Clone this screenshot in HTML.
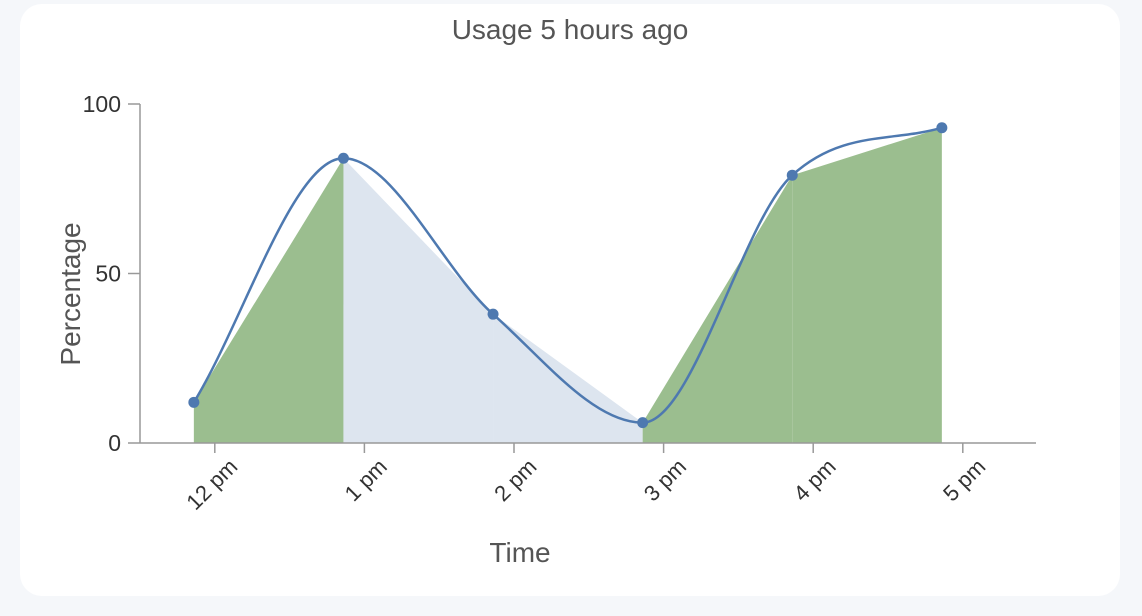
<!DOCTYPE html>
<html><head><meta charset="utf-8"><style>
body{margin:0;background:#f5f7fa;font-family:"Liberation Sans","DejaVu Sans",sans-serif;}
#card{position:absolute;left:20px;top:4px;width:1100px;height:592px;background:#fff;border-radius:22px;}
svg{position:absolute;left:0;top:0;}
</style></head><body>
<div id="card"></div>
<svg id="chart" width="1142" height="616">
<text x="570" y="39" text-anchor="middle" font-size="28" fill="#555">Usage 5 hours ago</text>
<g id="areas"></g><g id="axes"></g><g id="marks"></g>
<text x="520" y="562" text-anchor="middle" font-size="28" fill="#555">Time</text>
<text transform="translate(80,294) rotate(-90)" text-anchor="middle" font-size="28" fill="#555">Percentage</text>
</svg>
<script>
const times=[11.86,12.86,13.86,14.86,15.86,16.86];
const values=[12,84,38,6,79,93];
const segFills=['#9bbe8f','#dde5ef','#dde5ef','#9bbe8f','#9bbe8f'];
const xTicks=[12,13,14,15,16,17];
const xTickLabels=['12 pm','1 pm','2 pm','3 pm','4 pm','5 pm'];
const yTicks=[0,50,100];
const NS='http://www.w3.org/2000/svg';
const X=h=>140+(h-11.5)*149.6;
const Y=v=>443-v*3.39;
function mk(tag,attrs,parent){const e=document.createElementNS(NS,tag);for(const k in attrs)e.setAttribute(k,attrs[k]);parent.appendChild(e);return e;}
const areas=document.getElementById('areas'),axes=document.getElementById('axes'),marks=document.getElementById('marks');
for(let i=0;i<values.length-1;i++){
 const p=mk('polygon',{points:`${X(times[i])},${Y(0)} ${X(times[i])},${Y(values[i])} ${X(times[i+1])},${Y(values[i+1])} ${X(times[i+1])},${Y(0)}`,fill:segFills[i]},areas);
 
 
}
const xa=mk('line',{x1:140,y1:443,x2:1036,y2:443,stroke:'#999','stroke-width':1.5},axes);

const ya=mk('line',{x1:140,y1:443,x2:140,y2:104,stroke:'#999','stroke-width':1.5},axes);

yTicks.forEach(v=>{
 mk('line',{x1:128,y1:Y(v),x2:140,y2:Y(v),stroke:'#999','stroke-width':1.5},axes);
 const t=mk('text',{x:121,y:Y(v)+8,'text-anchor':'end','font-size':23,fill:'#333'},axes);t.textContent=v;
 
});
xTicks.forEach((h,i)=>{
 mk('line',{x1:X(h),y1:443,x2:X(h),y2:453,stroke:'#999','stroke-width':1.5},axes);
 const t=mk('text',{transform:`translate(${X(h)+24},${468}) rotate(-45)`,'text-anchor':'end','font-size':22,fill:'#333'},axes);
 t.textContent=xTickLabels[i];
 
});
const px=times.map(X),py=values.map(Y),n=px.length;
const d=[],m=[];for(let i=0;i<n-1;i++)d.push((py[i+1]-py[i])/(px[i+1]-px[i]));
for(let i=0;i<n;i++){
 if(i===0)m.push(d[0]);else if(i===n-1)m.push(d[n-2]);
 else m.push(d[i-1]*d[i]<=0?0:(d[i-1]+d[i])/2);
}
for(let i=0;i<n-1;i++){if(d[i]===0){m[i]=m[i+1]=0;continue;}const a=m[i]/d[i],b=m[i+1]/d[i],s=a*a+b*b;if(s>9){const t=3/Math.sqrt(s);m[i]=t*a*d[i];m[i+1]=t*b*d[i];}}
let path=`M${px[0]},${py[0]}`;
for(let i=0;i<n-1;i++){const h=(px[i+1]-px[i])/3;path+=` C${px[i]+h},${py[i]+m[i]*h} ${px[i+1]-h},${py[i+1]-m[i+1]*h} ${px[i+1]},${py[i+1]}`;}
const ln=mk('path',{d:path,fill:'none',stroke:'#4e79b0','stroke-width':2.5},marks);

for(let i=0;i<n;i++){const c=mk('circle',{cx:px[i],cy:py[i],r:5.5,fill:'#4e79b0'},marks);
 }
</script>
</body></html>
